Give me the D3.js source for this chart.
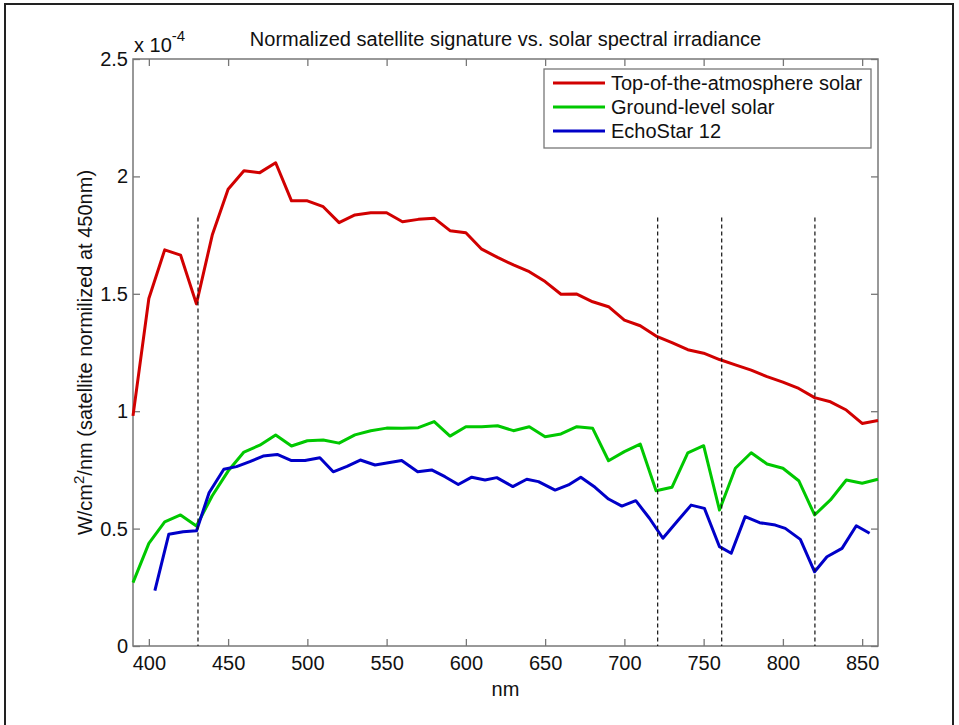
<!DOCTYPE html>
<html>
<head>
<meta charset="utf-8">
<script src="https://cdn.jsdelivr.net/npm/d3@7"></script>
<style>
  body { margin: 0; background: #fff; }
  svg text { font-family: "Liberation Sans", Arial, sans-serif; fill: #111; }
</style>
</head>
<body>
<div id="chart"></div>
<script>
// values are in units of 1e-4 W/cm^2/nm
const solarNm = [390, 400, 410, 420, 430, 440, 450, 460, 470, 480, 490, 500, 510, 520, 530, 540, 550, 560, 570, 580,
  590, 600, 610, 620, 630, 640, 650, 660, 670, 680, 690, 700, 710, 720, 730, 740, 750, 760, 770, 780,
  790, 800, 810, 820, 830, 840, 850, 860];
const topOfAtmosphere = [0.98, 1.48, 1.687, 1.665, 1.457, 1.75, 1.945, 2.024, 2.016, 2.058, 1.896, 1.896, 1.871, 1.803, 1.836, 1.845, 1.845, 1.807, 1.817, 1.822,
  1.769, 1.760, 1.690, 1.655, 1.623, 1.594, 1.552, 1.498, 1.499, 1.466, 1.445, 1.388, 1.364, 1.320, 1.292, 1.262, 1.247, 1.220, 1.197, 1.175,
  1.147, 1.124, 1.097, 1.058, 1.040, 1.005, 0.948, 0.960];
const groundLevel = [0.27, 0.437, 0.529, 0.558, 0.511, 0.64, 0.745, 0.826, 0.855, 0.899, 0.852, 0.874, 0.877, 0.864, 0.899, 0.917, 0.928, 0.927, 0.930, 0.956,
  0.894, 0.934, 0.934, 0.938, 0.917, 0.934, 0.891, 0.903, 0.934, 0.927, 0.789, 0.828, 0.860, 0.661, 0.676, 0.823, 0.853, 0.579, 0.757, 0.823,
  0.775, 0.757, 0.704, 0.558, 0.622, 0.707, 0.693, 0.710];

const echoNm = [403.8, 412.6, 421.6, 430.1, 438, 447.3, 455.3, 463.7, 472.1, 481, 490, 498.5, 507.9, 516.3, 525, 533.4, 542.7, 551, 559.5, 569.6,
  578.4, 586.8, 595.2, 603.7, 612.1, 619.5, 629.6, 638.4, 645.8, 656.3, 664.7, 672.5, 681.5, 690, 698.4, 707.2, 715.8, 724.3, 733.1, 742.1,
  750.5, 760, 767.4, 776.2, 785.3, 795.2, 801.5, 811, 820, 827.8, 837.3, 846.3, 854.7];
const echoStar = [0.236, 0.476, 0.487, 0.491, 0.653, 0.753, 0.764, 0.785, 0.809, 0.816, 0.790, 0.790, 0.802, 0.742, 0.765, 0.792, 0.771, 0.780, 0.790, 0.742,
  0.750, 0.721, 0.688, 0.719, 0.707, 0.717, 0.679, 0.710, 0.700, 0.664, 0.686, 0.719, 0.676, 0.626, 0.596, 0.619, 0.544, 0.459, 0.529, 0.600,
  0.586, 0.423, 0.395, 0.551, 0.525, 0.515, 0.501, 0.454, 0.316, 0.380, 0.416, 0.512, 0.480];

const dashedNm = [431, 721, 761.4, 820.2];
const dashedTop = 1.825;

const xTicks = [400, 450, 500, 550, 600, 650, 700, 750, 800, 850];
const yTicks = [0, 0.5, 1, 1.5, 2, 2.5];

const seriesNames = ["Top-of-the-atmosphere solar", "Ground-level solar", "EchoStar 12"];
const seriesColors = ["#d10000", "#00c800", "#0000c8"];

const width = 959, height = 725;
const svg = d3.select("#chart").append("svg")
    .attr("width", width)
    .attr("height", height);

// outer frame
svg.append("rect")
    .attr("x", 5).attr("y", 4)
    .attr("width", 948).attr("height", 740)
    .attr("fill", "none").attr("stroke", "#222").attr("stroke-width", 2);

const m = { left: 133, right: 878, top: 59, bottom: 646 };
const x = d3.scaleLinear().domain([390, 860]).range([m.left, m.right]);
const y = d3.scaleLinear().domain([0, 2.5]).range([m.bottom, m.top]);

const fs = 20;
const tickLen = 7;

// axes
const axisColor = "#777";
function styleAxis(g) {
    g.select(".domain").remove();
    g.selectAll(".tick line").attr("stroke", axisColor).attr("stroke-width", 1.3);
    g.selectAll(".tick text").style("font-size", fs + "px").attr("fill", "#111");
}
svg.append("g").attr("transform", `translate(0,${m.bottom})`)
    .call(d3.axisBottom(x).tickValues(xTicks).tickSize(-tickLen).tickPadding(10))
    .call(styleAxis);
svg.append("g").attr("transform", `translate(0,${m.top})`)
    .call(d3.axisTop(x).tickValues(xTicks).tickSize(-tickLen).tickFormat(""))
    .call(styleAxis);
svg.append("g").attr("transform", `translate(${m.left},0)`)
    .call(d3.axisLeft(y).tickValues(yTicks).tickSize(-tickLen).tickPadding(5).tickFormat(d3.format("")))
    .call(styleAxis);
svg.append("g").attr("transform", `translate(${m.right},0)`)
    .call(d3.axisRight(y).tickValues(yTicks).tickSize(-tickLen).tickFormat(""))
    .call(styleAxis);

svg.append("rect")
    .attr("x", m.left).attr("y", m.top)
    .attr("width", m.right - m.left).attr("height", m.bottom - m.top)
    .attr("fill", "none").attr("stroke", axisColor).attr("stroke-width", 1.5);

// series
const line = d3.line().x(d => x(d[0])).y(d => y(d[1]));
const series = [
    d3.zip(solarNm, topOfAtmosphere),
    d3.zip(solarNm, groundLevel),
    d3.zip(echoNm, echoStar)
];
series.forEach((s, i) => {
    svg.append("path")
        .datum(s)
        .attr("d", line)
        .attr("fill", "none")
        .attr("stroke", seriesColors[i])
        .attr("stroke-width", 3)
        .attr("stroke-linejoin", "round");
});

// dashed markers
svg.selectAll(".marker").data(dashedNm).enter().append("line")
    .attr("class", "marker")
    .attr("x1", d => x(d)).attr("x2", d => x(d))
    .attr("y1", y(dashedTop)).attr("y2", y(0))
    .attr("stroke", "#111").attr("stroke-width", 1.2)
    .attr("stroke-dasharray", "4,3");

// title and labels
svg.append("text")
    .attr("x", (m.left + m.right) / 2).attr("y", 46)
    .attr("text-anchor", "middle")
    .style("font-size", "20px")
    .text("Normalized satellite signature vs. solar spectral irradiance");

const expo = svg.append("text").attr("x", 134).attr("y", 52).style("font-size", fs + "px");
expo.append("tspan").text("x 10");
expo.append("tspan").attr("dy", -11).style("font-size", "15px").text("-4");

svg.append("text")
    .attr("x", (m.left + m.right) / 2).attr("y", 696)
    .attr("text-anchor", "middle")
    .style("font-size", fs + "px")
    .text("nm");

const ylab = svg.append("text")
    .attr("transform", `translate(92,${(m.top + m.bottom) / 2}) rotate(-90)`)
    .attr("text-anchor", "middle")
    .style("font-size", fs + "px");
ylab.append("tspan").text("W/cm");
ylab.append("tspan").attr("dy", -8).style("font-size", "15px").text("2");
ylab.append("tspan").attr("dy", 8).text("/nm (satellite normilized at 450nm)");

// legend
const legend = svg.append("g");
legend.append("rect")
    .attr("x", 544).attr("y", 69)
    .attr("width", 327).attr("height", 79)
    .attr("fill", "#fff").attr("stroke", axisColor).attr("stroke-width", 1.3);
seriesNames.forEach((name, i) => {
    const ly = 83 + i * 24;
    legend.append("line")
        .attr("x1", 553).attr("x2", 605)
        .attr("y1", ly).attr("y2", ly)
        .attr("stroke", seriesColors[i]).attr("stroke-width", 3);
    legend.append("text")
        .attr("x", 611).attr("y", ly + 7)
        .style("font-size", fs + "px")
        .text(name);
});
</script>
</body>
</html>
